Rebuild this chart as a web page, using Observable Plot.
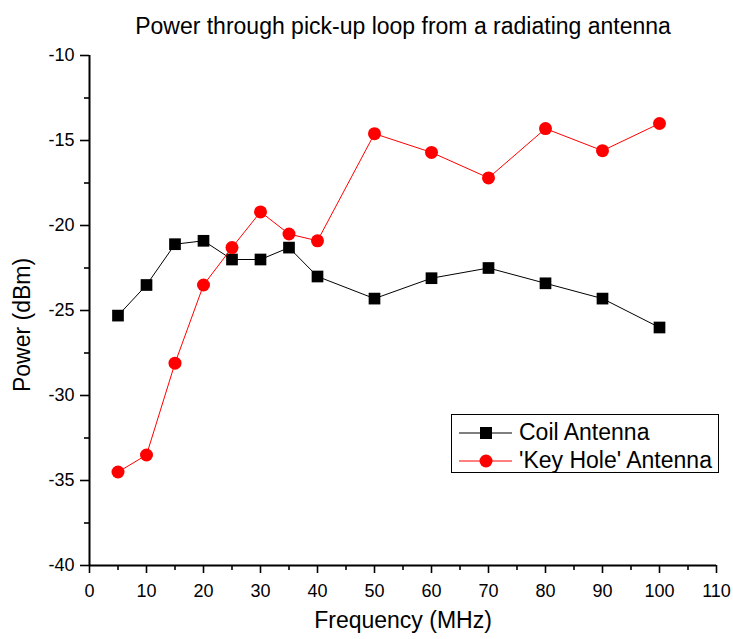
<!DOCTYPE html>
<html>
<head>
<meta charset="utf-8">
<script src="https://cdn.jsdelivr.net/npm/d3@7"></script>
<script src="https://cdn.jsdelivr.net/npm/@observablehq/plot@0.6"></script>
<style>
  html, body { margin: 0; padding: 0; background: #fff; }
  #wrap { position: relative; width: 733px; height: 639px; font-family: "Liberation Sans", Arial, sans-serif; }
  #legend { position: absolute; left: 451px; top: 414px; width: 268px; height: 59px; border: 1px solid #000; background: #fff; box-sizing: border-box; }
  .lrow { position: absolute; left: 0; height: 29px; display: flex; align-items: center; font-size: 23px; color: #000; white-space: nowrap; }
  .lrow svg { margin-left: 7px; margin-right: 6px; }
  #ylab { position: absolute; left: 22px; top: 325px; transform: translate(-50%, -50%) rotate(-90deg); white-space: nowrap; font-size: 23px; color: #000; line-height: 1; }
</style>
</head>
<body>
<div id="wrap"></div>
<script>
const freqs = [5, 10, 15, 20, 25, 30, 35, 40, 50, 60, 70, 80, 90, 100];
const coil = [-25.3, -23.5, -21.1, -20.9, -22.0, -22.0, -21.3, -23.0, -24.3, -23.1, -22.5, -23.4, -24.3, -26.0];
const keyHole = [-34.5, -33.5, -28.1, -23.5, -21.3, -19.2, -20.5, -20.9, -14.6, -15.7, -17.2, -14.3, -15.6, -14.0];
const seriesNames = ["Coil Antenna", "'Key Hole' Antenna"];
const xTicks = [0, 10, 20, 30, 40, 50, 60, 70, 80, 90, 100, 110];
const xMinor = [5, 15, 25, 35, 45, 55, 65, 75, 85, 95, 105];
const yTicks = [-40, -35, -30, -25, -20, -15, -10];
const yMinor = [-37.5, -32.5, -27.5, -22.5, -17.5, -12.5];
const titleText = "Power through pick-up loop from a radiating antenna";
const xLabel = "Frequency (MHz)";
const yLabel = "Power (dBm)";

const coilData = freqs.map((f, i) => ({f, p: coil[i]}));
const keyData = freqs.map((f, i) => ({f, p: keyHole[i]}));
const fmt = d => String(d);

const chart = Plot.plot({
  width: 733,
  height: 639,
  marginLeft: 89,
  marginRight: 17,
  marginTop: 55,
  marginBottom: 74,
  x: {domain: [0, 110]},
  y: {domain: [-40, -10]},
  style: {fontFamily: "'Liberation Sans', Arial, sans-serif", fontSize: "18px", color: "#000", background: "#fff", overflow: "visible"},
  marks: [
    Plot.axisX({ticks: xTicks, tickFormat: fmt, tickSize: 8, tickPadding: 11, strokeWidth: 1.6, label: null, fontSize: 18}),
    Plot.axisX({ticks: xMinor, tickSize: 5, text: null, strokeWidth: 1.6, label: null}),
    Plot.axisY({ticks: yTicks, tickFormat: fmt, tickSize: 9, tickPadding: 6, strokeWidth: 1.6, label: null, fontSize: 18}),
    Plot.axisY({ticks: yMinor, tickSize: 5, text: null, strokeWidth: 1.6, label: null}),
    Plot.ruleX([0], {stroke: "#000", strokeWidth: 2}),
    Plot.ruleY([-40], {stroke: "#000", strokeWidth: 2}),
    Plot.line(coilData, {x: "f", y: "p", stroke: "#000", strokeWidth: 1}),
    Plot.dot(coilData, {x: "f", y: "p", symbol: "square", r: 6.6, fill: "#000", stroke: "none"}),
    Plot.line(keyData, {x: "f", y: "p", stroke: "#ff0000", strokeWidth: 1}),
    Plot.dot(keyData, {x: "f", y: "p", symbol: "circle", r: 6.5, fill: "#ff0000", stroke: "none"}),
    Plot.text([titleText], {frameAnchor: "top", dy: -38, fontSize: 23, fill: "#000"}),
    Plot.text([xLabel], {frameAnchor: "bottom", dy: 62, fontSize: 23, fill: "#000"})
  ]
});
const wrap = document.getElementById("wrap");
wrap.appendChild(chart);

const ylab = document.createElement("div");
ylab.id = "ylab";
ylab.textContent = yLabel;
wrap.appendChild(ylab);

const legend = document.createElement("div");
legend.id = "legend";
const symbols = [
  `<svg width="54" height="14"><line x1="0" y1="7" x2="53" y2="7" stroke="#000" stroke-width="1"/><rect x="21" y="1" width="12" height="12" fill="#000"/></svg>`,
  `<svg width="54" height="14"><line x1="0" y1="7" x2="53" y2="7" stroke="#f00" stroke-width="1"/><circle cx="27" cy="7" r="6.5" fill="#f00"/></svg>`
];
seriesNames.forEach((name, i) => {
  const row = document.createElement("div");
  row.className = "lrow";
  row.style.top = (3 + i * 28) + "px";
  row.innerHTML = symbols[i] + "<span></span>";
  row.querySelector("span").textContent = name;
  legend.appendChild(row);
});
wrap.appendChild(legend);
</script>
</body>
</html>
